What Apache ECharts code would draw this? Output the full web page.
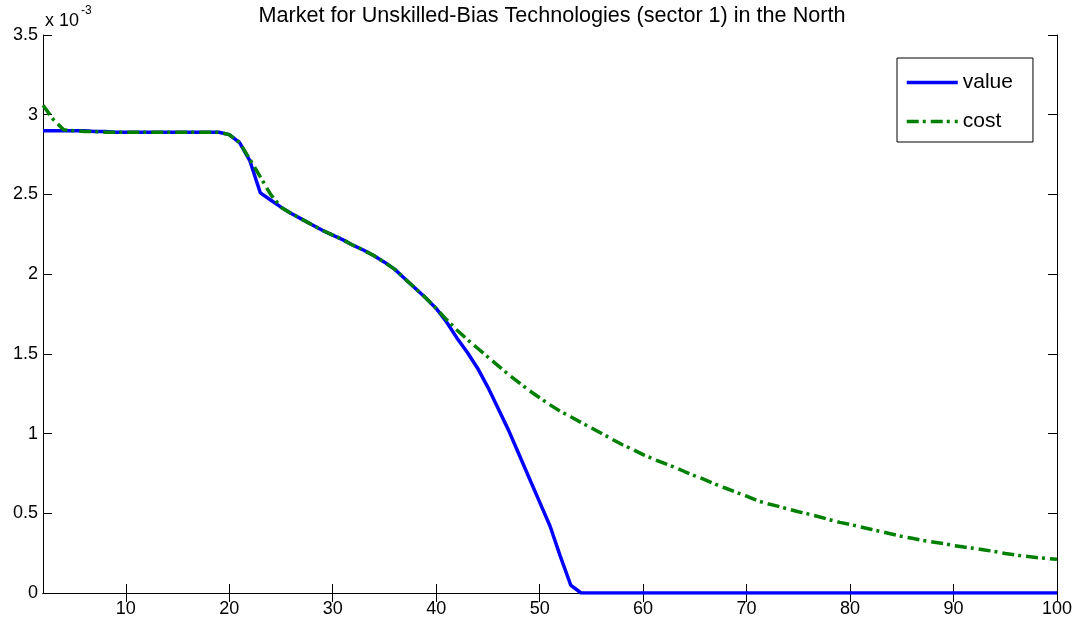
<!DOCTYPE html>
<html>
<head>
<meta charset="utf-8">
<script src="https://cdn.jsdelivr.net/npm/echarts@6/dist/echarts.min.js"></script>
<style>
html,body{margin:0;padding:0;background:#fff;}
#chart{width:1081px;height:621px;}
</style>
</head>
<body>
<div id="chart"></div>
<script>
// Period (x axis)
const periods = [2,3,4,5,6,7,8,9,10,11,12,13,14,15,16,17,18,19,20,21,22,23,24,25,26,27,28,29,30,31,32,33,34,35,36,37,38,39,40,41,42,43,44,45,46,47,48,49,50,51,52,53,54,55,56,57,58,59,60,61,62,63,64,65,66,67,68,69,70,71,72,73,74,75,76,77,78,79,80,81,82,83,84,85,86,87,88,89,90,91,92,93,94,95,96,97,98,99,100];
// values in units of 1e-3
const valueSeries = [2.90,2.90,2.90,2.90,2.90,2.895,2.895,2.89,2.89,2.89,2.89,2.89,2.89,2.89,2.89,2.89,2.89,2.89,2.875,2.825,2.71,2.51,2.465,2.42,2.38,2.345,2.31,2.275,2.245,2.215,2.18,2.15,2.115,2.075,2.03,1.97,1.91,1.85,1.785,1.70,1.60,1.51,1.41,1.29,1.155,1.02,0.87,0.72,0.57,0.42,0.23,0.05,0,0,0,0,0,0,0,0,0,0,0,0,0,0,0,0,0,0,0,0,0,0,0,0,0,0,0,0,0,0,0,0,0,0,0,0,0,0,0,0,0,0,0,0,0,0,0];
const costSeries = [3.06,2.97,2.905,2.90,2.895,2.895,2.89,2.89,2.89,2.89,2.89,2.89,2.89,2.89,2.89,2.89,2.89,2.89,2.875,2.825,2.72,2.61,2.50,2.42,2.38,2.345,2.31,2.275,2.245,2.215,2.18,2.15,2.115,2.075,2.03,1.97,1.91,1.85,1.785,1.715,1.65,1.59,1.535,1.48,1.425,1.37,1.32,1.27,1.225,1.18,1.14,1.105,1.07,1.035,1.0,0.965,0.93,0.90,0.868,0.84,0.815,0.79,0.762,0.735,0.71,0.682,0.657,0.632,0.607,0.58,0.56,0.545,0.527,0.51,0.495,0.478,0.46,0.443,0.43,0.415,0.40,0.385,0.37,0.355,0.343,0.33,0.32,0.31,0.298,0.288,0.28,0.27,0.26,0.248,0.238,0.23,0.222,0.217,0.211];
const xTicks = [10,20,30,40,50,60,70,80,90,100];
const seriesNames = ['value','cost'];
const titleText = 'Market for Unskilled-Bias Technologies (sector 1) in the North';

const FONT = '"Liberation Sans", Arial, sans-serif';
const chart = echarts.init(document.getElementById('chart'), null, {renderer:'canvas'});
const pair = arr => periods.map((p,i)=>[p, arr[i]]);
const tickStyle = {inside:true, length:9, lineStyle:{color:'#000', width:1}};
const lineAxis = {show:true, lineStyle:{color:'#000', width:1}};

chart.setOption({
  animation:false,
  backgroundColor:'#fff',
  title:{text:titleText, left:547, textAlign:'center', top:0,
    textStyle:{fontFamily:FONT, fontSize:21.6, fontWeight:'normal', color:'#000'}},
  grid:{left:43, right:24, top:35, bottom:28, containLabel:false},
  legend:{orient:'vertical', left:897, top:58, padding:[14,20,10,8],
    itemWidth:51, itemHeight:14, itemGap:18, borderColor:'#000', borderWidth:1,
    backgroundColor:'#fff', data:seriesNames,
    itemStyle:{opacity:0},
    lineStyle:{width:3.5},
    textStyle:{fontFamily:FONT, fontSize:21, color:'#000'}},
  xAxis:[
    {type:'value', min:2, max:100, position:'bottom', axisLine:lineAxis,
     axisTick:Object.assign({customValues:xTicks}, tickStyle),
     axisLabel:{customValues:xTicks, fontFamily:FONT, fontSize:18, color:'#000', margin:7},
     splitLine:{show:false}},
    {type:'value', min:2, max:100, position:'top', axisLine:lineAxis,
     axisTick:Object.assign({customValues:xTicks}, tickStyle),
     axisLabel:{show:false}, splitLine:{show:false}}
  ],
  yAxis:[
    {type:'value', min:0, max:3.5, interval:0.5, position:'left', axisLine:lineAxis,
     axisTick:tickStyle,
     axisLabel:{fontFamily:FONT, fontSize:18, color:'#000', margin:5},
     splitLine:{show:false}},
    {type:'value', min:0, max:3.5, interval:0.5, position:'right', axisLine:lineAxis,
     axisTick:tickStyle, axisLabel:{show:false}, splitLine:{show:false}}
  ],
  graphic:[
    {type:'text', left:45, top:12, style:{text:'x 10', font:'18px "Liberation Sans", Arial, sans-serif', fill:'#000'}},
    {type:'text', left:81, top:5, style:{text:'-3', font:'12px "Liberation Sans", Arial, sans-serif', fill:'#000'}}
  ],
  series:[
    {name:seriesNames[0], type:'line', data:pair(valueSeries), xAxisIndex:0, yAxisIndex:0,
     symbol:'none', color:'#0000ff', lineStyle:{color:'#0000ff', width:3.5}},
    {name:seriesNames[1], type:'line', data:pair(costSeries), xAxisIndex:0, yAxisIndex:0,
     symbol:'none', color:'#008000', lineStyle:{color:'#008000', width:3.5, type:[12,4,3,5]}}
  ]
});
</script>
</body>
</html>
